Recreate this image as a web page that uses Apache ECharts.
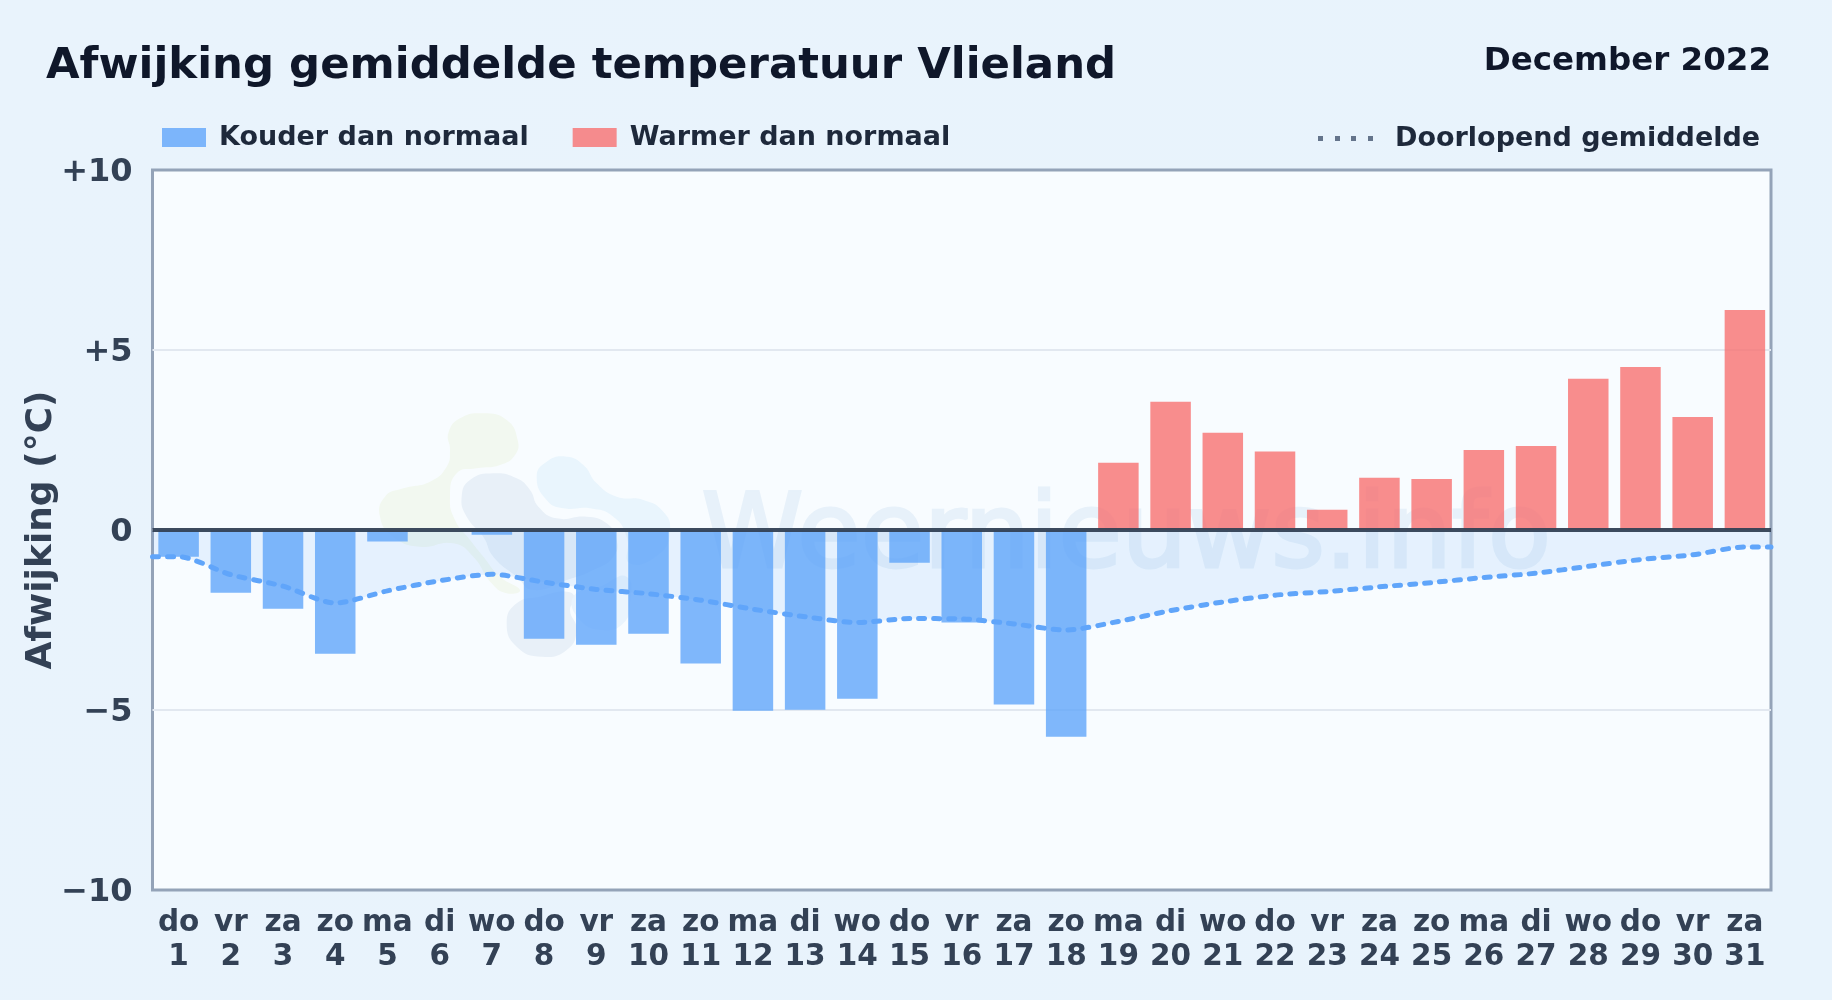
<!DOCTYPE html>
<html>
<head>
<meta charset="utf-8">
<style>html,body{margin:0;padding:0;background:#e8f3fc}#chart{width:1832px;height:1000px}</style>
<script src="https://cdn.jsdelivr.net/npm/echarts@6/dist/echarts.min.js"></script>
</head>
<body>
<div id="chart"></div>
<script>
const weekdays = ['do','vr','za','zo','ma','di','wo','do','vr','za','zo','ma','di','wo','do','vr','za','zo','ma','di','wo','do','vr','za','zo','ma','di','wo','do','vr','za'];
const dayNumbers = [1,2,3,4,5,6,7,8,9,10,11,12,13,14,15,16,17,18,19,20,21,22,23,24,25,26,27,28,29,30,31];
const deviations = [-0.74,-1.74,-2.19,-3.44,-0.32,0,-0.13,-3.02,-3.19,-2.88,-3.71,-5.02,-4.99,-4.69,-0.91,-2.57,-4.85,-5.74,1.87,3.56,2.70,2.18,0.56,1.45,1.42,2.22,2.33,4.20,4.53,3.14,6.11];
const runningMean = [-0.74,-1.24,-1.56,-2.03,-1.69,-1.41,-1.23,-1.45,-1.65,-1.77,-1.95,-2.20,-2.41,-2.57,-2.46,-2.47,-2.61,-2.78,-2.54,-2.24,-2.00,-1.81,-1.71,-1.58,-1.46,-1.32,-1.20,-1.01,-0.82,-0.69,-0.47];
const yTickLabels = {'10':'+10','5':'+5','0':'0','-5':'\u22125','-10':'\u221210'};
const seriesNames = ['Kouder dan normaal','Warmer dan normaal','Doorlopend gemiddelde'];
const titleText = 'Afwijking gemiddelde temperatuur Vlieland';
const periodText = 'December 2022';
const yAxisName = 'Afwijking (\u00b0C)';
const watermarkText = 'Weernieuws.info';

const FONT = '"DejaVu Sans", sans-serif';
const categories = weekdays.map((d, i) => d + '\n' + dayNumbers[i]);
const coldValues = deviations.map(v => v < 0 ? v : null);
const warmValues = deviations.map(v => v > 0 ? v : null);
// The line runs flat from the first and last day out to the plot edges.
const linePoints = [[0.5, runningMean[0]]]
  .concat(runningMean.map((v, i) => [dayNumbers[i], v]))
  .concat([[31.5, runningMean[runningMean.length - 1]]]);

// Faint logo behind the plot (decoration), outlines in crop coordinates.
const toPage = pts => pts.map(p => [360 + p[0] / 3, 390 + p[1] / 3]);
const blob = (pts, fill) => ({type:'polygon', z:1, silent:true, shape:{points:toPage(pts), smooth:0.5}, style:{fill}});
const logo = [
  blob([[265,130],[300,85],[370,70],[440,90],[473,150],[465,195],[420,225],[350,235],[290,250],[270,320],[285,390],[330,450],[370,500],[420,560],[480,600],[440,610],[395,580],[340,500],[280,460],[180,470],[100,440],[60,380],[75,320],[130,295],[210,275],[260,230],[270,180]], '#f2f8f0'),
  blob([[305,320],[330,270],[400,250],[470,265],[510,300],[535,350],[590,385],[680,380],[740,400],[770,450],[760,500],[700,540],[620,570],[520,600],[470,560],[400,500],[370,440],[320,380]], '#e8f0f8'),
  blob([[530,260],[560,215],[620,200],[670,225],[710,280],[770,320],[850,330],[910,365],[930,420],[900,490],[810,520],[800,440],[760,380],[690,355],[610,355],[560,330]], '#e9f5fd'),
  blob([[440,700],[470,640],[540,620],[620,605],[645,625],[630,660],[650,720],[620,780],[545,800],[470,770]], '#e8f0f8'),
  blob([[640,620],[720,590],[800,560],[810,640],[790,700],[730,720],[660,690]], '#eaf4fd')
];

const chart = echarts.init(document.getElementById('chart'), null, {renderer:'canvas'});
chart.setOption({
  animation:false,
  backgroundColor:{type:'linear',x:0,y:0,x2:1,y2:1,colorStops:[{offset:0,color:'#e9f3fc'},{offset:1,color:'#e8f3fc'}]},
  title:[
    {text:titleText,left:46,top:45,padding:0,textStyle:{fontFamily:FONT,fontWeight:'bold',fontSize:43.4,color:'#0f172a'}},
    {text:periodText,right:61,top:45,padding:0,textStyle:{fontFamily:FONT,fontWeight:'bold',fontSize:32.5,color:'#0f172a'}}
  ],
  legend:[
    {left:162,top:124,padding:0,itemWidth:44,itemHeight:19,itemGap:44,selectedMode:false,
     textStyle:{fontFamily:FONT,fontWeight:'bold',fontSize:27,color:'#1e293b',padding:[0,0,0,8]},
     data:[{name:seriesNames[0],icon:'rect'},{name:seriesNames[1],icon:'rect'}]},
    {left:1318,top:125,padding:0,itemWidth:55,itemHeight:5,itemGap:23,selectedMode:false,
     textStyle:{fontFamily:FONT,fontWeight:'bold',fontSize:27,color:'#1e293b',padding:[0,0,0,17]},
     data:[{name:seriesNames[2],
            icon:'path://M0 0h5v5H0zM17 0h5v5h-5zM33 0h5v5h-5zM50 0h5v5h-5z',
            itemStyle:{color:'#64748b',opacity:1}}]}
  ],
  grid:{left:152.5,top:170,width:1618.5,height:720,show:true,backgroundColor:'#f8fcff',borderColor:'#94a3b8',borderWidth:3,containLabel:false},
  xAxis:[
    {type:'category',data:categories,boundaryGap:true,position:'bottom',
     axisLine:{show:false},axisTick:{show:false},splitLine:{show:false},
     axisLabel:{interval:0,margin:17,hideOverlap:false,fontFamily:FONT,fontWeight:'bold',fontSize:29.5,lineHeight:33.5,color:'#334155',align:'center'}},
    {type:'value',min:0.5,max:31.5,show:false}
  ],
  yAxis:{type:'value',min:-10,max:10,interval:5,
    name:yAxisName,nameLocation:'middle',nameGap:93,nameRotate:90,nameMoveOverlap:false,
    nameTextStyle:{fontFamily:FONT,fontWeight:'bold',fontSize:36,color:'#334155'},
    axisLine:{show:false},axisTick:{show:false},
    splitLine:{show:true,showMinLine:false,showMaxLine:false,lineStyle:{color:'#e2e8f0',width:2}},
    axisLabel:{margin:20,fontFamily:FONT,fontWeight:'bold',fontSize:32,color:'#334155',verticalAlign:'top',lineHeight:5,
      formatter:v => yTickLabels[String(v)]}
  },
  graphic:[...logo,
    {type:'text',z:1,silent:true,left:700,top:487,
     style:{text:watermarkText,fontFamily:FONT,fontSize:103,fontWeight:'normal',fill:'#e7f1fa',stroke:'#e7f1fa',lineWidth:3}}
  ],
  series:[
    {name:seriesNames[0],type:'bar',xAxisIndex:0,data:coldValues,barWidth:40.5,barGap:'-100%',
     itemStyle:{color:'#60a5fa',opacity:0.8},
     markLine:{silent:true,symbol:'none',animation:false,label:{show:false},z:6,
       lineStyle:{color:'#334155',width:4,type:'solid',opacity:0.95},data:[{yAxis:0}]}},
    {name:seriesNames[1],type:'bar',xAxisIndex:0,data:warmValues,barWidth:40.5,barGap:'-100%',
     itemStyle:{color:'#f87171',opacity:0.8}},
    {name:seriesNames[2],type:'line',xAxisIndex:1,data:linePoints,smooth:0.25,showSymbol:false,symbol:'none',z:4,
     lineStyle:{color:'#60a5fa',width:5,type:[6,9],cap:'round'},
     itemStyle:{color:'#60a5fa'},
     areaStyle:{color:'rgba(96,165,250,0.18)',origin:'auto'}}
  ]
});
</script>
</body>
</html>
